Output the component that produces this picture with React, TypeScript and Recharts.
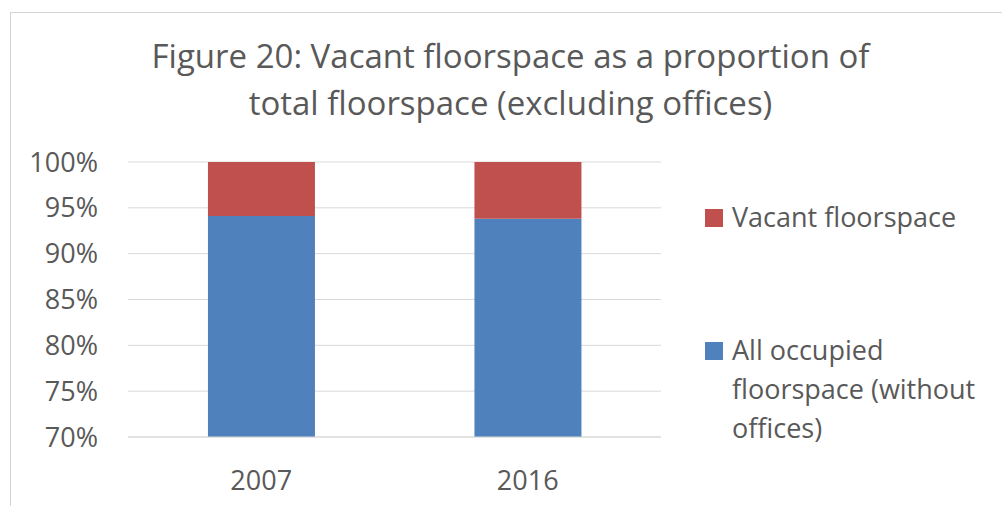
import { BarChart, Bar, XAxis, YAxis, CartesianGrid } from 'recharts';

const years = ['2007', '2016'];
const occupied = [94.1, 93.8];
const vacant = [5.9, 6.2];
const yTicks = [70, 75, 80, 85, 90, 95, 100];
const titleLines = ['Figure 20: Vacant floorspace as a proportion of', 'total floorspace (excluding offices)'];
const legendItems = [
  { lines: ['Vacant floorspace'], color: '#C0504D' },
  { lines: ['All occupied', 'floorspace (without', 'offices)'], color: '#4F81BD' },
];

const FONT = '"Open Sans", sans-serif';
const TEXT = '#595959';

const chartData = years.map((year, i) => ({ year, occupied: occupied[i], vacant: vacant[i] }));

export default function App() {
  return (
    <div style={{ position: 'absolute', left: 0, top: 0, width: 1002, height: 506, overflow: 'hidden', background: '#fff' }}>
      <div
        style={{
          position: 'absolute',
          left: 10,
          top: 12,
          width: 1100,
          height: 600,
          border: '1px solid #d4d4d4',
        }}
      />
      <div
        style={{
          position: 'absolute',
          left: 0,
          top: 32,
          width: 1021,
          textAlign: 'center',
          fontFamily: FONT,
          fontSize: 33,
          lineHeight: '47px',
          color: TEXT,
        }}
      >
        {titleLines.map((t, i) => (
          <div key={i}>{t}</div>
        ))}
      </div>
      <div style={{ position: 'absolute', left: 0, top: 0 }}>
        <BarChart width={1002} height={506} data={chartData} margin={{ top: 162, right: 341, bottom: 29, left: 0 }} barCategoryGap="30%">
          <CartesianGrid vertical={false} stroke="#d9d9d9" />
          <XAxis
            dataKey="year"
            tickLine={false}
            tickSize={0}
            tickMargin={34}
            height={40}
            axisLine={{ stroke: '#d9d9d9' }}
            tick={{ fill: TEXT, fontSize: 27, fontFamily: FONT }}
          />
          <YAxis
            width={128}
            domain={[70, 100]}
            ticks={yTicks}
            allowDataOverflow
            tickFormatter={(v) => `${v}%`}
            axisLine={false}
            tickLine={false}
            tickSize={0}
            tickMargin={30}
            tick={{ fill: TEXT, fontSize: 27, fontFamily: FONT }}
          />
          <Bar dataKey="occupied" stackId="a" fill="#4F81BD" isAnimationActive={false} />
          <Bar dataKey="vacant" stackId="a" fill="#C0504D" isAnimationActive={false} />
        </BarChart>
      </div>
      <div
        style={{
          position: 'absolute',
          left: 705,
          top: 197,
          width: 300,
          fontFamily: FONT,
          fontSize: 27,
          color: TEXT,
          lineHeight: '39px',
        }}
      >
        {legendItems.map((item, i) => (
          <div key={i} style={{ display: 'flex', alignItems: 'flex-start', marginBottom: i === 0 ? 94 : 0 }}>
            <div style={{ width: 18, height: 18, background: item.color, marginTop: 12, marginRight: 9, flexShrink: 0 }} />
            <div>
              {item.lines.map((l, j) => (
                <div key={j}>{l}</div>
              ))}
            </div>
          </div>
        ))}
      </div>
    </div>
  );
}
